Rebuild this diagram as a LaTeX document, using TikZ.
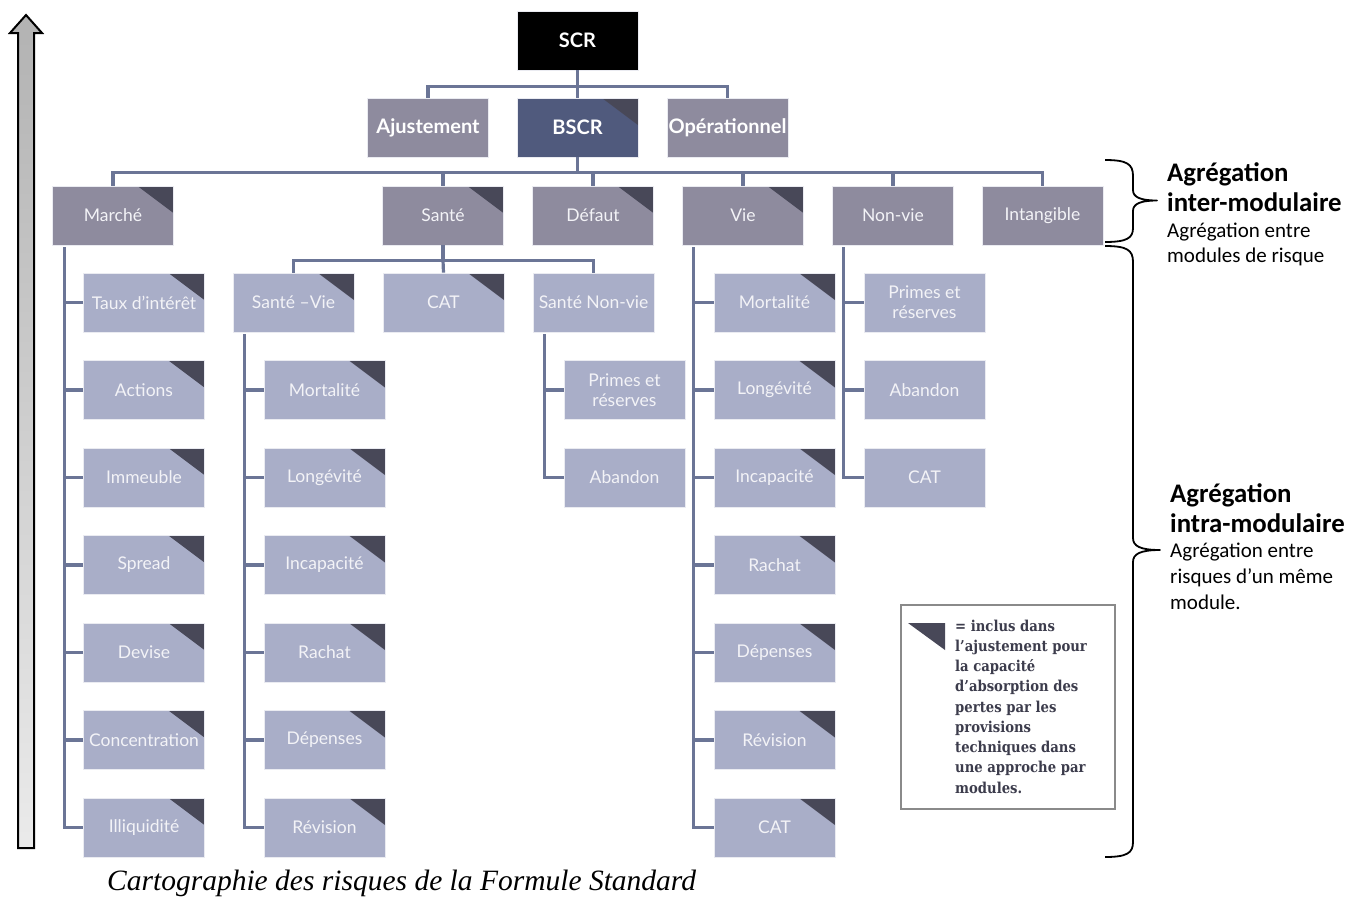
\documentclass[tikz,border=0pt]{standalone}
\usepackage{fontspec}
\setmainfont{Lato}
\newfontfamily\boxfont{Lato}
\newfontfamily\notefont{Carlito}
\newfontfamily\legfont[FakeStretch=0.88]{DejaVu Serif}
\newfontfamily\capfont{Liberation Serif}
\usetikzlibrary{calc}

\definecolor{lvlone}{HTML}{8E8B9E}
\definecolor{bscrblue}{HTML}{505A7D}
\definecolor{lvlthree}{HTML}{A9AEC8}
\definecolor{cornerdark}{HTML}{484858}
\definecolor{linkblue}{HTML}{6B7596}
\definecolor{boxtext}{HTML}{F3F3F7}
\definecolor{legtext}{HTML}{3C3C4C}
\definecolor{legframe}{HTML}{8A8A8A}

\tikzset{
  box/.style={rectangle, minimum width=121pt, minimum height=59pt, inner sep=0pt,
    align=center, text=boxtext, draw=white!75!lvlthree, line width=0.8pt,
    font=\boxfont\fontsize{17.5}{20}\selectfont},
  topbox/.style={box, text=white, font=\boxfont\bfseries\fontsize{20}{22}\selectfont},
  modbox/.style={box, fill=lvlone},
  riskbox/.style={box, fill=lvlthree},
  flagged/.style={path picture={\fill[cornerdark]
      ([xshift=-36pt]path picture bounding box.north east) --
      (path picture bounding box.north east) --
      ([yshift=-27pt]path picture bounding box.north east) -- cycle;}},
  link/.style={draw=linkblue, line width=3.2pt},
  bracepath/.style={draw=black, line width=1.8pt, line join=round},
  notehead/.style={anchor=base west, inner sep=0pt, font=\notefont\bfseries\fontsize{26.8}{30}\selectfont},
  notebody/.style={anchor=base west, inner sep=0pt, font=\notefont\fontsize{21}{25}\selectfont},
  legline/.style={anchor=base west, inner sep=0pt, text=legtext, font=\legfont\bfseries\fontsize{15}{20}\selectfont},
}

\begin{document}
\begin{tikzpicture}[x=1pt, y=-1pt]
\useasboundingbox (0,0) rectangle (1360,898);
\fill[white] (0,0) rectangle (1360,898);

% vertical block arrow on the left
\path[draw=black, line width=2pt, line join=miter, top color=black!30, bottom color=black!8]
  (10,33) -- (26,15) -- (42,33) -- (34,33) -- (34,848) -- (18,848) -- (18,33) -- cycle;

% top of the tree
\node[topbox, fill=black] (scr) at (577.5,40.5) {SCR};
\node[topbox, fill=lvlone] (ajust) at (428,127.5) {Ajustement};
\node[topbox, fill=bscrblue, flagged] (bscr) at (577.5,127.5) {BSCR};
\node[topbox, fill=lvlone] (oper) at (727.5,127.5) {Opérationnel};

% risk modules
\node[modbox, flagged] (marche) at (113,215.5) {Marché};
\node[modbox, flagged] (sante) at (443,215.5) {Santé};
\node[modbox, flagged] (defaut) at (593,215.5) {Défaut};
\node[modbox, flagged] (vie) at (743,215.5) {Vie};
\node[modbox] (nonvie) at (893,215.5) {Non-vie};
\node[modbox] (intang) at (1042.5,215.5) {Intangible};

% market sub-modules
\foreach \t [count=\i, evaluate=\i as \yy using 302.5+(\i-1)*87.5] in
  {Taux d’intérêt, Actions, Immeuble, Spread, Devise, Concentration, Illiquidité}
  \node[riskbox, flagged] (m\i) at (144,\yy) {\t};

% health sub-modules
\node[riskbox, flagged] (sv) at (293.5,302.5) {Santé –Vie};
\node[riskbox, flagged] (scat) at (443.5,302.5) {CAT};
\node[riskbox] (snv) at (593.5,302.5) {Santé Non-vie};
\foreach \t [count=\i, evaluate=\i as \yy using 390+(\i-1)*87.5] in
  {Mortalité, Longévité, Incapacité, Rachat, Dépenses, Révision}
  \node[riskbox, flagged] (sv\i) at (324.5,\yy) {\t};
\node[riskbox] (snv1) at (624.5,390) {Primes et\\réserves};
\node[riskbox] (snv2) at (624.5,477.5) {Abandon};

% life sub-modules
\foreach \t [count=\i, evaluate=\i as \yy using 302.5+(\i-1)*87.5] in
  {Mortalité, Longévité, Incapacité, Rachat, Dépenses, Révision, CAT}
  \node[riskbox, flagged] (v\i) at (774.5,\yy) {\t};

% non-life sub-modules
\node[riskbox] (nv1) at (924.5,302.5) {Primes et\\réserves};
\node[riskbox] (nv2) at (924.5,390) {Abandon};
\node[riskbox] (nv3) at (924.5,477.5) {CAT};

% connectors: SCR level
\draw[link] (scr.south) -- ++(0,16) coordinate (b1);
\draw[link] (ajust.north) |- (b1) -| (oper.north);
\draw[link] (b1) -- (bscr.north);

% connectors: module bus
\draw[link] (bscr.south) -- ++(0,15) coordinate (b2);
\draw[link] (marche.north) |- (b2) -| (intang.north);
\foreach \n in {sante, defaut, vie, nonvie}
  \draw[link] (\n.north) -- (\n.north |- b2);

% connectors: health bus
\draw[link] (sante.south) -- ++(0,15) coordinate (b3);
\draw[link] (sv.north) |- (b3) -| (snv.north);
\draw[link] (b3) -- (scat.north);

% connectors: trunks with side branches
\coordinate (tm) at ([xshift=12pt,yshift=-2pt]marche.south west);
\draw[link] (tm) |- (m7.west);
\foreach \i in {1,...,6} \draw[link] (m\i.west) -- (m\i.west -| tm);

\coordinate (tsv) at ([xshift=12pt,yshift=-2pt]sv.south west);
\draw[link] (tsv) |- (sv6.west);
\foreach \i in {1,...,5} \draw[link] (sv\i.west) -- (sv\i.west -| tsv);

\coordinate (tsnv) at ([xshift=12pt,yshift=-2pt]snv.south west);
\draw[link] (tsnv) |- (snv2.west);
\draw[link] (snv1.west) -- (snv1.west -| tsnv);

\coordinate (tv) at ([xshift=11pt,yshift=-2pt]vie.south west);
\draw[link] (tv) |- (v7.west);
\foreach \i in {1,...,6} \draw[link] (v\i.west) -- (v\i.west -| tv);

\coordinate (tnv) at ([xshift=11pt,yshift=-2pt]nonvie.south west);
\draw[link] (tnv) |- (nv3.west);
\foreach \i in {1,2} \draw[link] (nv\i.west) -- (nv\i.west -| tnv);

% legend
\draw[legframe, line width=1.2pt] (901,605) rectangle (1115,809);
\fill[cornerdark] (908,623) -- (945,623) -- (945,650) -- cycle;
\foreach \t [count=\i, evaluate=\i as \yy using 631+(\i-1)*20.25] in
  {= inclus dans, l’ajustement pour, la capacité, d’absorption des, pertes par les,
   provisions, techniques dans, une approche par, modules.}
  \node[legline] (leg\i) at (955,\yy) {\t};

% braces on the right
\draw[bracepath] (1105,160) .. controls (1127,160) and (1133,164) .. (1133,176)
  -- (1133,190) .. controls (1133,197) and (1140,200.5) .. (1157,200.5)
  .. controls (1140,200.5) and (1133,204) .. (1133,211)
  -- (1133,228) .. controls (1133,238) and (1127,242) .. (1105,242);
\draw[bracepath] (1105,246) .. controls (1127,246) and (1133,250) .. (1133,262)
  -- (1133,538) .. controls (1133,546) and (1140,550) .. (1160,550)
  .. controls (1140,550) and (1133,554) .. (1133,562)
  -- (1133,842) .. controls (1133,853) and (1127,857) .. (1105,857);

% aggregation notes
\node[notehead] (ia1) at (1167,181.5) {Agrégation};
\node[notehead] (ia2) at (1167,211.5) {inter-modulaire};
\node[notebody] (ia3) at (1167,237) {Agrégation entre};
\node[notebody] (ia4) at (1167,262) {modules de risque};
\node[notehead] (ra1) at (1170,502) {Agrégation};
\node[notehead] (ra2) at (1170,532) {intra-modulaire};
\node[notebody] (ra3) at (1170,557) {Agrégation entre};
\node[notebody] (ra4) at (1170,583) {risques d’un même};
\node[notebody] (ra5) at (1170,609) {module.};

% caption
\node[anchor=base west, inner sep=0pt, font=\capfont\itshape\fontsize{29.5}{32}\selectfont]
  (cap) at (107,890) {Cartographie des risques de la Formule Standard};
\end{tikzpicture}
\end{document}
